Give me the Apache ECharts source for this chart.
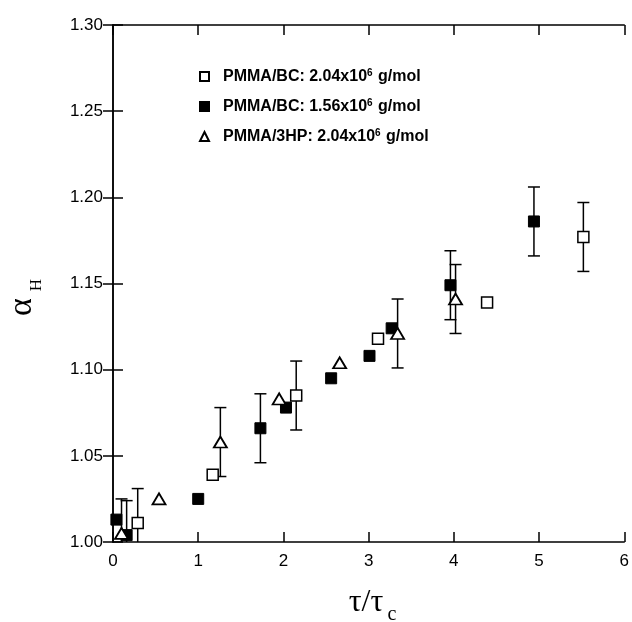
<!DOCTYPE html>
<html>
<head>
<meta charset="utf-8">
<script src="https://cdn.jsdelivr.net/npm/echarts@6/dist/echarts.min.js"></script>
<style>
html, body { margin: 0; padding: 0; background: #fff; }
#chart { width: 632px; height: 622px; }
</style>
</head>
<body>
<div id="chart"></div>
<script>
// 数据: PMMA/BC 2.04x10^6 (空心方块)
var bcHighX = [0.29, 1.17, 2.15, 3.11, 4.39, 5.52];
var bcHighY = [1.011, 1.039, 1.085, 1.118, 1.139, 1.177];
var bcHighErr = [0.02, 0, 0.02, 0, 0, 0.02];
// PMMA/BC 1.56x10^6 (实心方块)
var bcLowX = [0.04, 0.16, 1.00, 1.73, 2.03, 2.56, 3.01, 3.27, 3.96, 4.94];
var bcLowY = [1.013, 1.004, 1.025, 1.066, 1.078, 1.095, 1.108, 1.124, 1.149, 1.186];
var bcLowErr = [0, 0.02, 0, 0.02, 0, 0, 0, 0, 0.02, 0.02];
// PMMA/3HP 2.04x10^6 (空心三角)
var hpX = [0.10, 0.54, 1.26, 1.95, 2.66, 3.34, 4.02];
var hpY = [1.005, 1.025, 1.058, 1.083, 1.104, 1.121, 1.141];
var hpErr = [0.02, 0, 0.02, 0, 0, 0.02, 0.02];

var legendNames = ["bcHigh", "bcLow", "hp"];
var legendText = {
	bcHigh: ["PMMA/BC: 2.04x10", "6", " g/mol"],
	bcLow: ["PMMA/BC: 1.56x10", "6", " g/mol"],
	hp: ["PMMA/3HP: 2.04x10", "6", " g/mol"],
};

var chart = echarts.init(document.getElementById("chart"));

function pairs(xs, ys) {
	var out = [];
	for (var i = 0; i < xs.length; i++) out.push([xs[i], ys[i]]);
	return out;
}

// 误差棒数据 [x, low, high]
function errData(xs, ys, es) {
	var out = [];
	for (var i = 0; i < xs.length; i++) {
		if (es[i] > 0) out.push([xs[i], ys[i] - es[i], ys[i] + es[i]]);
	}
	return out;
}

function renderErr(params, api) {
	var x = api.value(0);
	var lo = api.coord([x, api.value(1)]);
	var hi = api.coord([x, api.value(2)]);
	var cap = 6;
	var style = { stroke: "#000", lineWidth: 1.5 };
	return {
		type: "group",
		children: [
			{ type: "line", shape: { x1: lo[0], y1: lo[1], x2: hi[0], y2: hi[1] }, style: style },
			{ type: "line", shape: { x1: hi[0] - cap, y1: hi[1], x2: hi[0] + cap, y2: hi[1] }, style: style },
			{ type: "line", shape: { x1: lo[0] - cap, y1: lo[1], x2: lo[0] + cap, y2: lo[1] }, style: style },
		],
	};
}

var allErr = errData(bcHighX, bcHighY, bcHighErr)
	.concat(errData(bcLowX, bcLowY, bcLowErr))
	.concat(errData(hpX, hpY, hpErr));

var axisLine = { show: true, lineStyle: { color: "#000", width: 1.5 } };
var tick = { show: true, inside: true, length: 10, lineStyle: { color: "#000", width: 1.5 } };
var labelFont = { color: "#000", fontFamily: "Liberation Sans, Arial", fontSize: 17 };
var serif = "Liberation Serif, Times New Roman";

var option = {
	animation: false,
	backgroundColor: "#fff",
	grid: { left: 113, right: 4, top: 25, bottom: 80 },
	legend: {
		orient: "vertical",
		left: 194,
		top: 63,
		itemWidth: 9,
		itemHeight: 9,
		itemGap: 12,
		data: legendNames,
		formatter: function (name) {
			var t = legendText[name];
			return "{b|" + t[0] + "}{s|" + t[1] + "}{b|" + t[2] + "}";
		},
		textStyle: {
			padding: [0, 0, 0, 9],
			rich: {
				b: { fontFamily: "Liberation Sans, Arial", fontWeight: "bold", fontSize: 16, color: "#000", lineHeight: 17 },
				s: { fontFamily: "Liberation Sans, Arial", fontWeight: "bold", fontSize: 10, color: "#000", verticalAlign: "top", lineHeight: 17, padding: [0, 1, 8, 0] },
			},
		},
	},
	xAxis: [
		{
			type: "value", min: 0, max: 6, interval: 1,
			axisLine: axisLine,
			axisTick: tick,
			axisLabel: Object.assign({ margin: 11 }, labelFont),
			splitLine: { show: false },
		},
		{
			type: "value", min: 0, max: 6, interval: 1, position: "top",
			axisLine: axisLine,
			axisTick: tick,
			axisLabel: { show: false },
			splitLine: { show: false },
		},
	],
	yAxis: [
		{
			type: "value", min: 1.0, max: 1.3, interval: 0.05,
			axisLine: axisLine,
			axisTick: tick,
			axisLabel: Object.assign({ margin: 10, formatter: function (v) { return v.toFixed(2); } }, labelFont),
			splitLine: { show: false },
		},
		{
			type: "value", min: 1.0, max: 1.3, interval: 0.05, position: "right",
			axisLine: axisLine,
			axisTick: tick,
			axisLabel: { show: false },
			splitLine: { show: false },
		},
	],
	series: [
		{
			type: "custom",
			renderItem: renderErr,
			data: allErr,
			encode: { x: 0, y: [1, 2] },
			clip: true,
			z: 1,
			silent: true,
		},
		{
			name: "bcHigh",
			type: "scatter",
			symbol: "rect",
			symbolSize: 11,
			itemStyle: { color: "#fff", borderColor: "#000", borderWidth: 1.5, opacity: 1 },
			data: pairs(bcHighX, bcHighY),
			z: 3,
		},
		{
			name: "bcLow",
			type: "scatter",
			symbol: "rect",
			symbolSize: 11,
			itemStyle: { color: "#000", borderColor: "#000", borderWidth: 1, opacity: 1 },
			data: pairs(bcLowX, bcLowY),
			z: 3,
		},
		{
			name: "hp",
			type: "scatter",
			symbol: "triangle",
			symbolSize: [13, 11],
			itemStyle: { color: "#fff", borderColor: "#000", borderWidth: 1.8, opacity: 1 },
			data: pairs(hpX, hpY),
			z: 4,
		},
	],
	graphic: [
		{
			type: "text",
			x: 22, y: 307,
			rotation: Math.PI / 2,
			style: { text: "α", fontFamily: serif, fontSize: 34, fill: "#000", align: "center", verticalAlign: "middle" },
		},
		{
			type: "text",
			x: 37, y: 285,
			rotation: Math.PI / 2,
			style: { text: "H", fontFamily: serif, fontSize: 17, fill: "#000", align: "center", verticalAlign: "middle" },
		},
		{
			type: "text",
			x: 366, y: 603,
			style: { text: "τ/τ", fontFamily: serif, fontSize: 32, fill: "#000", align: "center", verticalAlign: "middle" },
		},
		{
			type: "text",
			x: 392, y: 615,
			style: { text: "c", fontFamily: serif, fontSize: 20, fill: "#000", align: "center", verticalAlign: "middle" },
		},
	],
};

chart.setOption(option);
</script>
</body>
</html>
